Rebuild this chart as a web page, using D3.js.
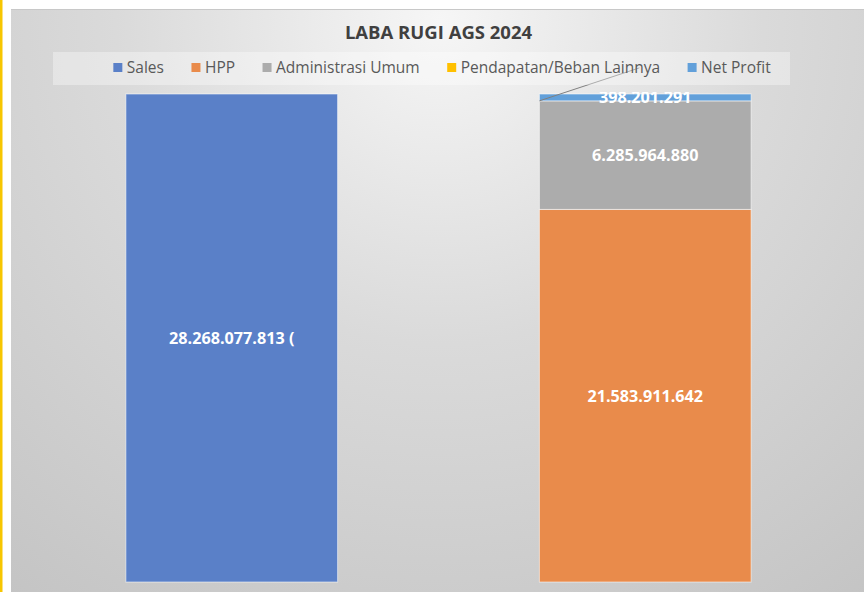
<!DOCTYPE html>
<html>
<head>
<meta charset="utf-8">
<script src="https://cdn.jsdelivr.net/npm/d3@7"></script>
<style>
  html, body { margin: 0; padding: 0; background: #fff; }
  svg { display: block; }
</style>
</head>
<body>
<div id="chart"></div>
<script>
// Data
const categories = ["Sales", "Beban"];
const seriesKeys = ["Sales", "HPP", "Administrasi Umum", "Pendapatan/Beban Lainnya", "Net Profit"];
const salesValues = [28268077813, 0];
const hppValues = [0, 21583911642];
const adminValues = [0, 6285964880];
const lainnyaValues = [0, 0];
const netProfitValues = [0, 398201291];
const labelTexts = {
  "Sales": "28.268.077.813 (",
  "HPP": "21.583.911.642",
  "Administrasi Umum": "6.285.964.880",
  "Net Profit": "398.201.291",
};
const titleText = "LABA RUGI AGS 2024";

const COLORS = {
  "Sales": "#5a80c8",
  "HPP": "#e98b4b",
  "Administrasi Umum": "#acacac",
  "Pendapatan/Beban Lainnya": "#ffc000",
  "Net Profit": "#62a0da",
};

const width = 864, height = 592;
const svg = d3.select("#chart").append("svg")
  .attr("width", width).attr("height", height);

const defs = svg.append("defs");
const grad = defs.append("radialGradient")
  .attr("id", "bg").attr("gradientUnits", "userSpaceOnUse")
  .attr("cx", 440).attr("cy", 20).attr("r", 720)
  .attr("fx", 440).attr("fy", 20);
grad.append("stop").attr("offset", "0%").attr("stop-color", "#f6f6f6");
grad.append("stop").attr("offset", "45%").attr("stop-color", "#dadada");
grad.append("stop").attr("offset", "100%").attr("stop-color", "#c4c4c4");

defs.append("clipPath").attr("id", "plotClip")
  .append("rect").attr("x", 0).attr("y", 92).attr("width", width).attr("height", 500);

// left yellow strip and chart area
svg.append("rect").attr("x", 0).attr("y", 0).attr("width", 2.5).attr("height", height).attr("fill", "#f7c600");
svg.append("rect").attr("x", 11).attr("y", 9).attr("width", width - 11).attr("height", height - 9)
  .attr("fill", "url(#bg)");
svg.append("line").attr("x1", 11).attr("x2", width).attr("y1", 9.5).attr("y2", 9.5)
  .attr("stroke", "#c8c8c8").attr("stroke-width", 1);

// Title
svg.append("text")
  .attr("x", 438.5).attr("y", 39)
  .attr("text-anchor", "middle")
  .attr("font-family", "Open Sans")
  .attr("font-weight", "bold")
  .attr("font-size", "18.5px")
  .attr("fill", "#404040")
  .text(titleText);

// Scales
const x = d3.scaleBand().domain(categories).range([25, 852]).paddingInner(0.488).paddingOuter(0.244);
const y = d3.scaleLinear().domain([0, d3.max(salesValues)]).range([582, 94]);

const rows = categories.map((c, i) => ({
  cat: c,
  "Sales": salesValues[i],
  "HPP": hppValues[i],
  "Administrasi Umum": adminValues[i],
  "Pendapatan/Beban Lainnya": lainnyaValues[i],
  "Net Profit": netProfitValues[i],
}));
const stacked = d3.stack().keys(seriesKeys)(rows);

const plotG = svg.append("g").attr("clip-path", "url(#plotClip)");

// Bars
stacked.forEach((layer) => {
  plotG.append("g").selectAll("rect")
    .data(layer.filter((d) => d[1] - d[0] > 0))
    .join("rect")
    .attr("x", (d) => x(d.data.cat))
    .attr("width", x.bandwidth())
    .attr("y", (d) => y(d[1]))
    .attr("height", (d) => y(d[0]) - y(d[1]))
    .attr("fill", COLORS[layer.key])
    .attr("stroke", "rgba(255,255,255,0.55)")
    .attr("stroke-width", 1);
});

// Data labels
stacked.forEach((layer) => {
  if (!labelTexts[layer.key]) return;
  plotG.append("g").selectAll("text")
    .data(layer.filter((d) => d[1] - d[0] > 0))
    .join("text")
    .attr("x", (d) => x(d.data.cat) + x.bandwidth() / 2)
    .attr("y", (d) => (y(d[0]) + y(d[1])) / 2)
    .attr("dy", "0.36em")
    .attr("text-anchor", "middle")
    .attr("font-family", "Open Sans")
    .attr("font-weight", "bold")
    .attr("font-size", "16.2px")
    .attr("fill", "#ffffff")
    .text(labelTexts[layer.key]);
});

// Leader line for the zero "Pendapatan/Beban Lainnya" segment
const lainnya = stacked.find((s) => s.key === "Pendapatan/Beban Lainnya")[1];
const lx = x(lainnya.data.cat), ly = y(lainnya[1]);
svg.append("line")
  .attr("x1", lx).attr("y1", ly)
  .attr("x2", lx + 100).attr("y2", ly - 33)
  .attr("stroke", "#808080").attr("stroke-width", 1);

// Legend
svg.append("rect").attr("x", 53).attr("y", 52).attr("width", 737).attr("height", 33)
  .attr("fill", "rgba(255,255,255,0.35)");

const legendG = svg.append("g");
let cursor = 0;
seriesKeys.forEach((k) => {
  const g = legendG.append("g").attr("transform", `translate(${cursor},0)`);
  g.append("rect").attr("x", 0).attr("y", 63).attr("width", 9).attr("height", 9).attr("fill", COLORS[k]);
  const t = g.append("text").attr("x", 13.5).attr("y", 72.5)
    .attr("font-family", "Open Sans").attr("font-size", "15.5px").attr("fill", "#595959").text(k);
  cursor += 13.5 + t.node().getComputedTextLength() + 27.5;
});
const legendWidth = cursor - 27.5;
legendG.attr("transform", `translate(${442 - legendWidth / 2},0)`);
</script>
</body>
</html>
